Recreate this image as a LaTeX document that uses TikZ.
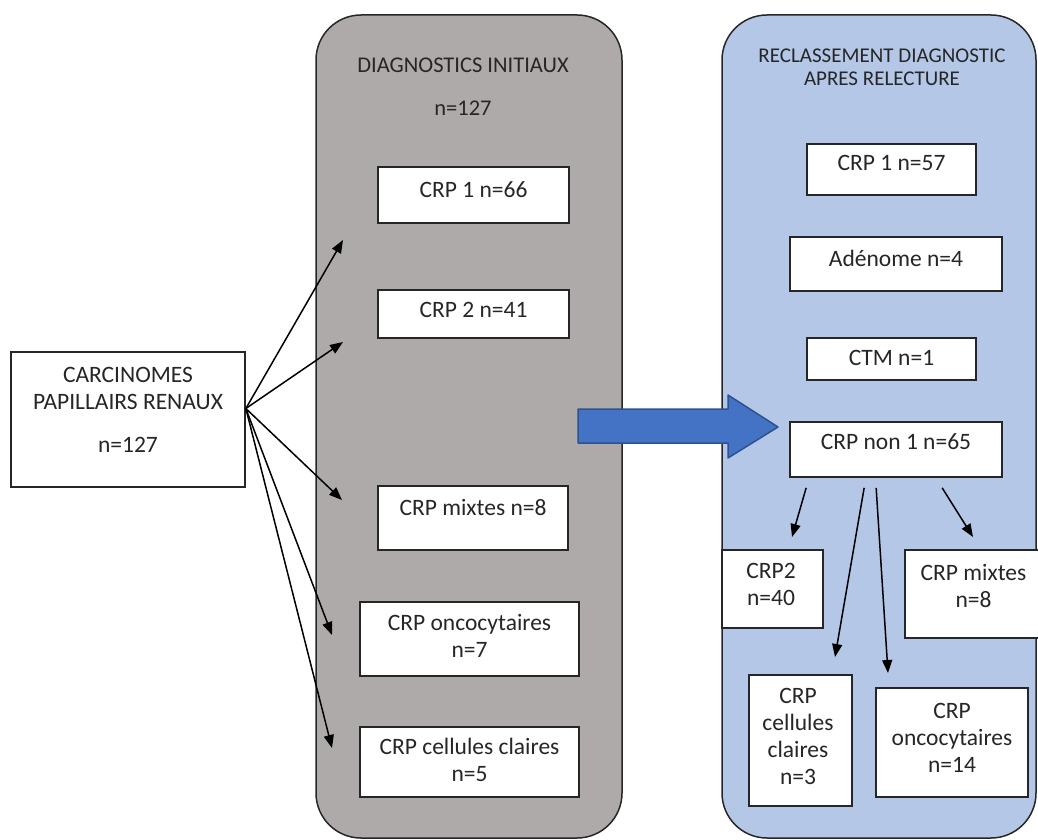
\documentclass[tikz,border=0pt]{standalone}
\usepackage{fontspec}
\setmainfont{Carlito}
\usetikzlibrary{arrows.meta}

\definecolor{grisfond}{HTML}{AEAAAA}
\definecolor{bleufond}{HTML}{B4C7E7}
\definecolor{bleuflec}{HTML}{4472C4}
\definecolor{bleubord}{HTML}{2F528F}
\definecolor{trait}{HTML}{262626}

\tikzset{
  cadre/.style={draw=trait, line width=1.7pt, fill=white, inner sep=0pt},
  lbl/.style={text=trait, align=center, inner sep=0pt, font=\fontsize{23.5}{27}\selectfont},
  titre/.style={text=trait, align=center, inner sep=0pt, font=\fontsize{21}{23}\selectfont},
  fl/.style={draw=black, line width=1.5pt, -{Triangle[length=13pt,width=10pt]}},
}

\begin{document}
\begin{tikzpicture}[x=1pt, y=-1pt]
    \useasboundingbox (0,0) rectangle (1038,840);
    % Blocs de fond
    \draw[draw=trait, line width=1.5pt, fill=grisfond, rounded corners=45] (316,15) rectangle (622,838);
    \draw[draw=trait, line width=1.5pt, fill=bleufond, rounded corners=45] (722,15) rectangle (1036,838);
    \node[titre, font=\fontsize{22.5}{25}\selectfont] (tgris) at (463,65) {DIAGNOSTICS INITIAUX};
    \node[titre, font=\fontsize{22.5}{25}\selectfont] (ngris) at (463,108) {n=127};
    \node[titre] (tbleu) at (882,67) {RECLASSEMENT DIAGNOSTIC\\APRES RELECTURE};

    % Point de depart
    \node[cadre, minimum width=234, minimum height=135,
      label={[lbl, yshift=9.5]center:CARCINOMES\\PAPILLAIRS RENAUX\\[16pt]n=127}] (carc) at (128,419.5) {};

    % Diagnostics initiaux
    \node[cadre, minimum width=191, minimum height=56, label={[lbl, yshift=5.5]center:CRP 1 n=66}] (gA) at (473.5,195) {};
    \node[cadre, minimum width=191, minimum height=48, label={[lbl, yshift=4.5]center:CRP 2 n=41}] (gB) at (473.5,314) {};
    \node[cadre, minimum width=190, minimum height=64, label={[lbl, yshift=11]center:CRP mixtes n=8}] (gC) at (473,518) {};
    \node[cadre, minimum width=219, minimum height=74, label={[lbl, yshift=3]center:CRP oncocytaires\\n=7}] (gD) at (469.5,639) {};
    \node[cadre, minimum width=219, minimum height=70, label={[lbl, yshift=2]center:CRP cellules claires\\n=5}] (gE) at (469.5,762) {};

    \foreach \i/\x/\y in {1/343/240, 2/343/342, 3/342/500, 4/332/635, 5/332/748}{
      \coordinate (t\i) at (\x,\y);
      \draw[fl] ([yshift=11]carc.east) -- (t\i);}

    % Reclassement
    \node[cadre, minimum width=169, minimum height=51, label={[lbl, yshift=6.5]center:CRP 1 n=57}] (bA) at (891.5,169.5) {};
    \node[cadre, minimum width=212, minimum height=54, label={[lbl, yshift=6]center:Adénome n=4}] (bB) at (896,264) {};
    \node[cadre, minimum width=169, minimum height=42, label={[lbl, yshift=1]center:CTM n=1}] (bC) at (891.5,359) {};
    \node[cadre, minimum width=212, minimum height=55, label={[lbl, yshift=7.5]center:CRP non 1 n=65}] (bD) at (896,449.5) {};
    \node[cadre, minimum width=101, minimum height=78, label={[lbl, yshift=4.5, xshift=-1.5]center:CRP2\\n=40}] (bE) at (772.5,589) {};
    \node[cadre, minimum width=137, minimum height=88, label={[lbl, yshift=8]center:CRP mixtes\\n=8}] (bF) at (973.5,594) {};
    \node[cadre, minimum width=103, minimum height=131, label={[lbl, yshift=4, xshift=-2.5]center:CRP\\cellules\\claires\\n=3}] (bG) at (800.5,740.5) {};
    \node[cadre, minimum width=152, minimum height=109, label={[lbl, yshift=5]center:CRP\\oncocytaires\\n=14}] (bH) at (952,742.5) {};

    \foreach \i/\dx/\x/\y in {1/17/792/537, 2/75/835/657, 3/87/888/673, 4/153/973/537}{
      \coordinate (u\i) at (\x,\y);
      \draw[fl] ([xshift=\dx, yshift=-10]bD.south west) -- (u\i);}

    % Grande fleche
    \filldraw[fill=bleuflec, draw=bleubord, line width=1.5pt, line join=round]
      (578,409) -- (728,409) -- (728,395) -- (778,427) -- (728,458) -- (728,443) -- (578,443) -- cycle;
\end{tikzpicture}
\end{document}
